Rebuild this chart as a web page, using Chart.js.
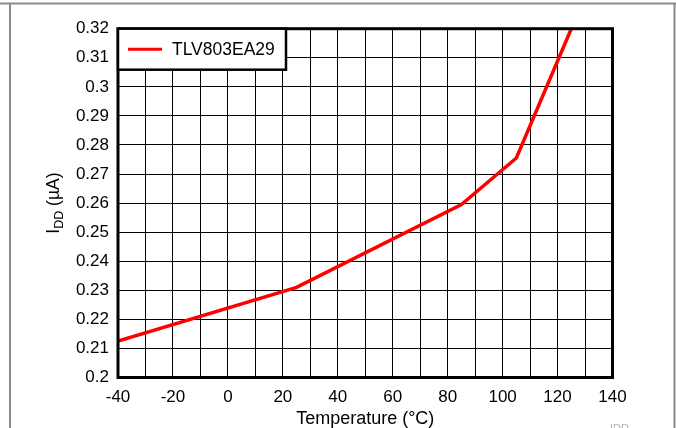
<!DOCTYPE html>
<html>
<head>
<meta charset="utf-8">
<script src="https://cdn.jsdelivr.net/npm/chart.js@4.4.1/dist/chart.umd.min.js"></script>
<style>
  html, body { margin: 0; padding: 0; background: #fff; }
  #wrap { position: relative; width: 676px; height: 428px; }
</style>
</head>
<body>
<div id="wrap"><canvas id="chartIdd"></canvas></div>
<script>
// Supply current vs temperature
var TEMPS = [-40, 25, 85, 105, 125];            // °C
var IDD   = [0.2125, 0.231, 0.2595, 0.2755, 0.32]; // µA
var SERIES_LABEL = 'TLV803EA29';
var X_TICKS = [-40, -20, 0, 20, 40, 60, 80, 100, 120, 140];

var FONT = "'Liberation Sans', Arial, Helvetica, sans-serif";
var RED = '#ff0000';
var INK = '#000000';

Chart.defaults.font.family = FONT;
Chart.defaults.font.size = 17;
Chart.defaults.color = INK;

// page frame, boxed plot area, inner legend and the y title with subscript
var decor = {
  id: 'decor',
  beforeDraw: function (chart) {
    var c = chart.ctx;
    c.save();
    c.strokeStyle = '#8a8a8a';
    c.lineWidth = 2;
    c.beginPath();
    c.moveTo(0, 3.5); c.lineTo(676, 3.5);
    c.moveTo(10, 3.5); c.lineTo(10, 428);
    c.moveTo(674.5, 3.5); c.lineTo(674.5, 428);
    c.stroke();
    c.fillStyle = '#b0b0b0';
    c.font = '11px ' + FONT;
    c.textBaseline = 'top';
    c.fillText('IDD', 610, 423);
    c.restore();
  },
  afterDraw: function (chart) {
    var a = chart.chartArea, c = chart.ctx;
    c.save();
    c.strokeStyle = INK;
    c.lineWidth = 3;
    c.strokeRect(a.left, a.top, a.right - a.left, a.bottom - a.top);

    // legend box in top-left corner
    var lw = 168, lh = 41;
    c.fillStyle = '#fff';
    c.fillRect(a.left, a.top, lw, lh);
    c.lineWidth = 2.5;
    c.strokeRect(a.left, a.top, lw, lh);
    c.strokeStyle = RED;
    c.lineWidth = 3;
    c.beginPath();
    c.moveTo(a.left + 10, a.top + 20.5);
    c.lineTo(a.left + 44, a.top + 20.5);
    c.stroke();
    c.fillStyle = INK;
    c.font = '17.5px ' + FONT;
    c.textBaseline = 'middle';
    c.fillText(chart.data.datasets[0].label, a.left + 54, a.top + 21);

    // y axis title: I_DD (µA)
    var cx = 53, cy = (a.top + a.bottom) / 2;
    c.translate(cx, cy);
    c.rotate(-Math.PI / 2);
    c.font = '17.5px ' + FONT;
    var w1 = c.measureText('I').width;
    c.font = '12.5px ' + FONT;
    var w2 = c.measureText('DD').width;
    c.font = '17.5px ' + FONT;
    var w3 = c.measureText(' (µA)').width;
    var x0 = -(w1 + w2 + w3) / 2;
    c.textBaseline = 'alphabetic';
    c.fillText('I', x0, 6);
    c.font = '12.5px ' + FONT;
    c.fillText('DD', x0 + w1, 10);
    c.font = '17.5px ' + FONT;
    c.fillText(' (µA)', x0 + w1 + w2, 6);
    c.restore();
  }
};

new Chart(document.getElementById('chartIdd'), {
  type: 'line',
  data: {
    datasets: [{
      label: SERIES_LABEL,
      data: TEMPS.map(function (t, i) { return { x: t, y: IDD[i] }; }),
      borderColor: RED,
      borderWidth: 3.5,
      pointRadius: 0,
      tension: 0
    }]
  },
  options: {
    responsive: true, maintainAspectRatio: false,
    animation: false,
    layout: { padding: { left: 0, right: 63.5, top: 28.7, bottom: 0 } },
    plugins: { legend: { display: false }, tooltip: { enabled: false } },
    scales: {
      x: {
        type: 'linear', min: -40, max: 140,
        afterFit: function (s) { s.height = 50.5; },
        afterBuildTicks: function (s) {
          var t = [];
          for (var v = -40; v <= 140; v += 10) t.push({ value: v });
          s.ticks = t;
        },
        ticks: {
          padding: 10, autoSkip: false, maxRotation: 0,
          callback: function (v) { return X_TICKS.indexOf(v) >= 0 ? String(v) : ''; }
        },
        grid: { color: INK, lineWidth: 1, drawTicks: false },
        border: { display: false },
        title: {
          display: true, text: 'Temperature (°C)',
          font: { size: 18, lineHeight: 1.0 },
          padding: { top: 0, bottom: 0 }
        }
      },
      y: {
        type: 'linear', min: 0.2, max: 0.32,
        afterFit: function (s) { s.width = 118; },
        ticks: {
          stepSize: 0.01, padding: 9,
          callback: function (v) { return String(Math.round(v * 100) / 100); }
        },
        grid: { color: INK, lineWidth: 1, drawTicks: false },
        border: { display: false }
      }
    }
  },
  plugins: [decor]
});
</script>
</body>
</html>
